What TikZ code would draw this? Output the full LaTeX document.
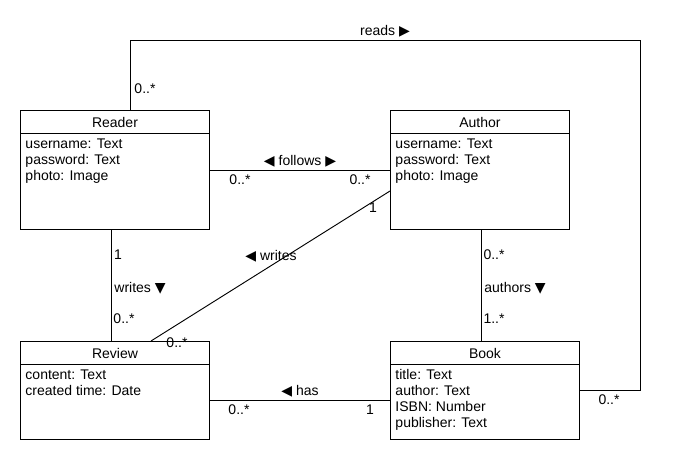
\documentclass[tikz,border=0pt]{standalone}
\usepackage{fontspec}
\setmainfont{Liberation Sans}
\newfontfamily\symfont{DejaVu Sans}
\usetikzlibrary{positioning, calc}

\newcommand{\tril}{{\symfont ◀}}
\newcommand{\trir}{{\symfont ▶}}
\newcommand{\trid}{{\symfont ▼}}

\begin{document}
\begin{tikzpicture}[x=0.75pt, y=-0.75pt, font=\fontsize{10.5}{12}\selectfont, line width=0.7pt,
  block/.style={rectangle,draw,anchor=north west,inner sep=0pt,minimum width=141.75pt,minimum height=89.25pt},
  attrs/.style={anchor=north west,align=left,inner sep=0pt},
  mult/.style={inner sep=0pt}]
\useasboundingbox (0,0) rectangle (680,460);

\node (reader) [block] at (20,110) {};
\node (author) [block, minimum width=134.25pt] at (390,110) {};
\node (review) [block, minimum height=73.5pt] at (20,341) {};
\node (book) [block, minimum height=73.5pt] at (390,341) {};

% class headers
\foreach \c/\t in {reader/Reader, author/Author, review/Review, book/Book} {
  \draw ($(\c.north west)+(0,23)$) -- ($(\c.north east)+(0,23)$);
  \node (\c-title) at ($(\c.north)+(0,12.5)$) {\t};
}
\node (reader-attr) [attrs] at ($(reader.north west)+(5,28)$) {username: Text\\password: Text\\photo: Image};
\node (author-attr) [attrs] at ($(author.north west)+(5,28)$) {username: Text\\password: Text\\photo: Image};
\node (review-attr) [attrs] at ($(review.north west)+(5,28)$) {content: Text\\created time: Date};
\node (book-attr) [attrs] at ($(book.north west)+(5,28)$) {title: Text\\author: Text\\ISBN: Number\\publisher: Text};

% associations
\coordinate (rd) at ($(reader.north west)+(110,0)$);
\coordinate (corner) at (640,40);
\draw (rd) |- (corner) |- (book.east);
\node (reads) at (385,31) {reads \trir};
\node (reads-m1) [mult] at (145,89) {0..*};
\node (reads-m2) [mult] at (609,400) {0..*};

\draw (reader.east) -- (author.west);
\node (follows) at (300,161) {\tril{} follows \trir};
\node (follows-m1) [mult] at (240,180) {0..*};
\node (follows-m2) [mult] at (360,180) {0..*};

\coordinate (rw) at ($(reader.south west)+(91,0)$);
\draw (rw) -- (rw |- review.north);
\node (writes1) at (140,288) {writes \trid};
\node (writes1-m1) [mult] at (118,255) {1};
\node (writes1-m2) [mult] at (124,319) {0..*};

\coordinate (aw) at ($(author.north west)+(0,81)$);
\coordinate (vw) at ($(review.north west)+(131,0)$);
\draw (aw) -- (vw);
\node (writes2) at (271,256) {\tril{} writes};
\node (writes2-m1) [mult] at (373,208) {1};
\node (writes2-m2) [mult] at (177,343) {0..*};

\coordinate (ab) at ($(author.south west)+(91,0)$);
\draw (ab) -- (ab |- book.north);
\node (authors) at (515,288) {authors \trid};
\node (authors-m1) [mult] at (494,255) {0..*};
\node (authors-m2) [mult] at (494,319) {1..*};

\coordinate (hv) at ($(review.north east)+(0,59)$);
\draw (hv) -- (hv -| book.west);
\node (has) at (300,391) {\tril{} has};
\node (has-m1) [mult] at (239,410) {0..*};
\node (has-m2) [mult] at (370,410) {1};
\end{tikzpicture}
\end{document}
